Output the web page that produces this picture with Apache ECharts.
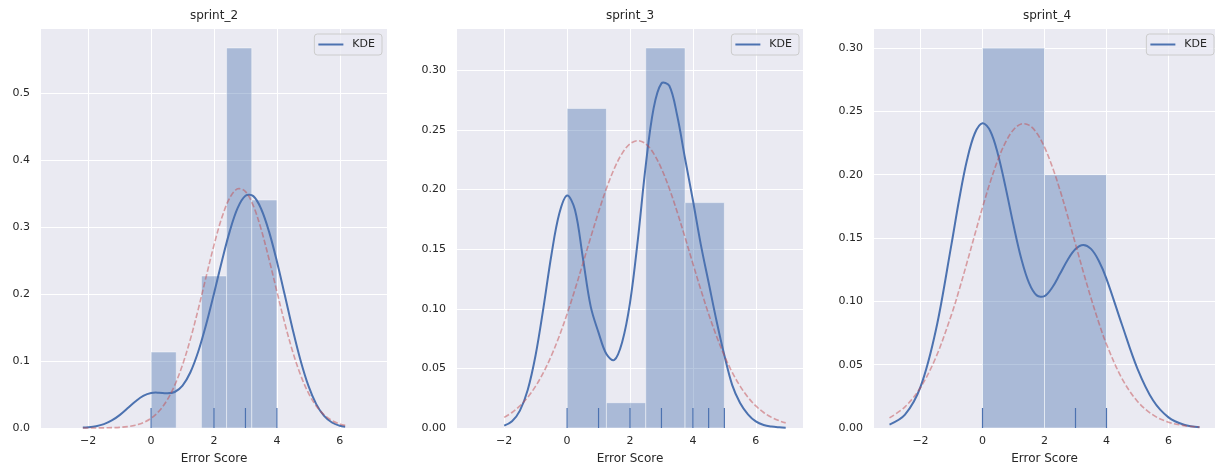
<!DOCTYPE html>
<html>
<head>
<meta charset="utf-8">
<title>Error Score per sprint</title>
<script src="https://cdn.jsdelivr.net/npm/echarts@6.0.0/dist/echarts.min.js"></script>
<style>
    html, body { margin: 0; padding: 0; background: #ffffff; }
    #main { width: 1215px; height: 470px; }
</style>
</head>
<body>
<div id="main"></div>
<script>
var panelTitles = ['sprint_2', 'sprint_3', 'sprint_4'];
var xName = 'Error Score';

// histogram bin edges and density heights
var binEdges2 = [0, 0.8, 1.6, 2.4, 3.2, 4.0];
var binHeights2 = [0.1136, 0, 0.2273, 0.5682, 0.3409];
var binEdges3 = [0, 1.25, 2.5, 3.75, 5];
var binHeights3 = [0.268, 0.0212, 0.3187, 0.189];
var binEdges4 = [0, 2, 4];
var binHeights4 = [0.30, 0.20];

// rug marks
var rug2 = [0, 2, 3, 4];
var rug3 = [0, 1, 2, 3, 4, 4.5, 5];
var rug4 = [0, 3, 4];

// curves: x positions, KDE density, fitted normal density
var curveX2 = [-2.17, -2, -1.75, -1.5, -1.25, -1, -0.75, -0.5, -0.25, 0, 0.25, 0.5, 0.75, 1, 1.25, 1.5, 1.75,
    2, 2.25, 2.5, 2.75, 3, 3.25, 3.5, 3.75, 4, 4.25, 4.5, 4.75, 5, 5.25, 5.5, 5.75, 6, 6.17];
var kde2 = [0.0006, 0.0011, 0.0027, 0.0058, 0.0113, 0.0193, 0.0294, 0.0397, 0.0481, 0.0524, 0.0528, 0.0518, 0.0538,
    0.0633, 0.0833, 0.1143, 0.1546, 0.2010, 0.2494, 0.2940, 0.3287, 0.3472, 0.3467, 0.3275, 0.2936, 0.2490,
    0.1988, 0.1478, 0.1013, 0.0633, 0.0357, 0.0181, 0.0082, 0.0033, 0.0017];
var fit2 = [0.0000, 0.0000, 0.0001, 0.0002, 0.0005, 0.0010, 0.0021, 0.0042, 0.0080, 0.0146, 0.0251, 0.0410, 0.0638,
    0.0945, 0.1329, 0.1778, 0.2262, 0.2735, 0.3146, 0.3440, 0.3576, 0.3535, 0.3323, 0.2970, 0.2524, 0.2040,
    0.1567, 0.1145, 0.0795, 0.0525, 0.0330, 0.0197, 0.0112, 0.0060, 0.0039];

var curveX3 = [-2, -1.75, -1.5, -1.25, -1, -0.75, -0.5, -0.25, 0, 0.25, 0.5, 0.75, 1, 1.25, 1.5, 1.75, 2, 2.25,
    2.5, 2.75, 3, 3.25, 3.5, 3.75, 4, 4.25, 4.5, 4.75, 5, 5.25, 5.5, 5.75, 6, 6.25, 6.5, 6.75, 6.95];
var kde3 = [0.0020, 0.0057, 0.0146, 0.0321, 0.0612, 0.1012, 0.1449, 0.1796, 0.1950, 0.1830, 0.1430, 0.1020,
    0.0800, 0.0620, 0.0570, 0.0720, 0.1050, 0.1580, 0.2200, 0.2680, 0.2890, 0.2870, 0.2620, 0.2260, 0.1910,
    0.1540, 0.1220, 0.0900, 0.0610, 0.0360, 0.0210, 0.0115, 0.0055, 0.0025, 0.0012, 0.0006, 0.0003];
var fit3 = [0.0089, 0.0130, 0.0185, 0.0258, 0.0351, 0.0466, 0.0606, 0.0770, 0.0956, 0.1161, 0.1378, 0.1598,
    0.1812, 0.2008, 0.2175, 0.2303, 0.2383, 0.2410, 0.2383, 0.2303, 0.2175, 0.2008, 0.1812, 0.1598, 0.1378,
    0.1161, 0.0956, 0.0770, 0.0606, 0.0466, 0.0351, 0.0258, 0.0185, 0.0130, 0.0089, 0.0060, 0.0043];

var curveX4 = [-3, -2.5, -2, -1.5, -1, -0.75, -0.5, -0.25, 0, 0.25, 0.5, 0.75, 1, 1.25, 1.5, 1.75, 2, 2.25,
    2.5, 2.75, 3, 3.25, 3.5, 3.75, 4, 4.5, 5, 5.5, 6, 6.5, 7];
var kde4 = [0.0027, 0.0105, 0.0324, 0.0777, 0.1452, 0.1808, 0.2115, 0.2325, 0.2406, 0.2345, 0.2160, 0.1894,
    0.1602, 0.1338, 0.1146, 0.1047, 0.1041, 0.1109, 0.1217, 0.1329, 0.1413, 0.1445, 0.1414, 0.1321, 0.1178,
    0.0815, 0.0467, 0.0219, 0.0084, 0.0026, 0.0006];
var fit4 = [0.0080, 0.0167, 0.0320, 0.0560, 0.0895, 0.1093, 0.1306, 0.1525, 0.1741, 0.1942, 0.2119, 0.2259,
    0.2355, 0.2400, 0.2391, 0.2329, 0.2217, 0.2063, 0.1878, 0.1670, 0.1452, 0.1234, 0.1026, 0.0833, 0.0661,
    0.0390, 0.0210, 0.0103, 0.0046, 0.0019, 0.0007];

// axis limits
var xMin = -3.5, xMax = 7.5;
var yMaxes = [0.5966, 0.3346, 0.315];
var yDecimals = [1, 2, 2];

if (document.readyState === 'loading') {
    document.addEventListener('DOMContentLoaded', drawPanels);
} else {
    drawPanels();
}

function zip(xs, ys) {
    var out = [];
    for (var i = 0; i < xs.length; i++) out.push([xs[i], ys[i]]);
    return out;
}

function binData(edges, heights) {
    var out = [];
    for (var i = 0; i < heights.length; i++) {
        if (heights[i] > 0) out.push([edges[i], edges[i + 1], heights[i]]);
    }
    return out;
}

function renderBar(params, api) {
    var tl = api.coord([api.value(0), api.value(2)]);
    var br = api.coord([api.value(1), 0]);
    return {
        type: 'rect',
        shape: {x: tl[0], y: tl[1], width: br[0] - tl[0], height: br[1] - tl[1]},
        style: {fill: 'rgba(76,114,176,0.4)', stroke: 'rgba(255,255,255,0.45)', lineWidth: 1}
    };
}

function renderRug(params, api) {
    var p = api.coord([api.value(0), 0]);
    return {
        type: 'line',
        shape: {x1: p[0], y1: p[1], x2: p[0], y2: p[1] - 20},
        style: {stroke: '#4C72B0', lineWidth: 1.2}
    };
}

// whole curve drawn once, as a spline through the data points
function curveRenderer(points, style) {
    return function (params, api) {
        if (params.dataIndex !== 0) return null;
        var pts = points.map(function (p) { return api.coord(p); });
        return {type: 'polyline', shape: {points: pts, smooth: 0.35}, style: style};
    };
}

function minusSign(v) {
    return v < 0 ? '\u2212' + Math.abs(v) : String(v);
}

function drawPanels() {
    var myChart = echarts.init(document.getElementById('main'));

    var gridLefts = [41, 457, 874];
    var legendRights = [833, 416, 1];
    var bins = [binData(binEdges2, binHeights2), binData(binEdges3, binHeights3), binData(binEdges4, binHeights4)];
    var rugs = [rug2, rug3, rug4];
    var kdes = [zip(curveX2, kde2), zip(curveX3, kde3), zip(curveX4, kde4)];
    var fits = [zip(curveX2, fit2), zip(curveX3, fit3), zip(curveX4, fit4)];

    var grids = [], xAxes = [], yAxes = [], titles = [], legends = [], series = [];

    for (var i = 0; i < 3; i++) {
        grids.push({
            left: gridLefts[i], top: 29, width: 346, height: 402,
            show: true, backgroundColor: '#EAEAF2', borderWidth: 0
        });
        titles.push({
            text: panelTitles[i],
            left: gridLefts[i] + 173, top: 10, textAlign: 'center', padding: 0,
            textStyle: {fontSize: 12, fontWeight: 'normal', color: '#262626', fontFamily: 'DejaVu Sans'}
        });
        legends.push({
            data: ['KDE'],
            right: legendRights[i], top: 34,
            orient: 'vertical',
            icon: 'rect', itemWidth: 25, itemHeight: 2,
            padding: [4, 7, 4, 4],
            backgroundColor: 'rgba(234,234,242,0.8)',
            borderColor: '#cccccc', borderWidth: 1, borderRadius: 3,
            textStyle: {fontSize: 11, lineHeight: 13, color: '#262626', fontFamily: 'DejaVu Sans', padding: [0, 0, 0, 4]}
        });
        xAxes.push({
            type: 'value', gridIndex: i, min: xMin, max: xMax,
            name: xName, nameLocation: 'middle', nameGap: 25,
            nameTextStyle: {fontSize: 12, color: '#262626', fontFamily: 'DejaVu Sans'},
            axisLine: {show: false}, axisTick: {show: false},
            axisLabel: {
                fontSize: 11, color: '#262626', fontFamily: 'DejaVu Sans', margin: 8,
                showMinLabel: false, showMaxLabel: false, formatter: minusSign
            },
            splitLine: {show: true, showMinLine: false, showMaxLine: false, lineStyle: {color: '#ffffff', width: 1}}
        });
        yAxes.push({
            type: 'value', gridIndex: i, min: 0, max: yMaxes[i],
            axisLine: {show: false}, axisTick: {show: false},
            axisLabel: {
                fontSize: 11, color: '#262626', fontFamily: 'DejaVu Sans', margin: 11,
                showMaxLabel: false,
                formatter: (function (d) { return function (v) { return v.toFixed(d); }; })(yDecimals[i])
            },
            splitLine: {show: true, showMaxLine: false, lineStyle: {color: '#ffffff', width: 1}}
        });

        series.push({
            name: 'hist' + i, type: 'custom', xAxisIndex: i, yAxisIndex: i,
            renderItem: renderBar, encode: {x: [0, 1], y: 2}, data: bins[i], z: 1, silent: true
        });
        series.push({
            name: 'KDE', type: 'custom', xAxisIndex: i, yAxisIndex: i,
            renderItem: curveRenderer(kdes[i], {stroke: '#4C72B0', lineWidth: 2, fill: null}),
            encode: {x: 0, y: 1}, data: kdes[i],
            itemStyle: {color: '#4C72B0'}, z: 3, silent: true
        });
        series.push({
            name: 'rug' + i, type: 'custom', xAxisIndex: i, yAxisIndex: i,
            renderItem: renderRug, encode: {x: 0, y: 1},
            data: rugs[i].map(function (v) { return [v, 0]; }), z: 4, silent: true
        });
        series.push({
            name: 'fit' + i, type: 'custom', xAxisIndex: i, yAxisIndex: i,
            renderItem: curveRenderer(fits[i], {stroke: 'rgba(196,78,82,0.5)', lineWidth: 1.6, lineDash: [5.5, 2.4], fill: null}),
            encode: {x: 0, y: 1}, data: fits[i], z: 5, silent: true
        });
    }

    var option = {
        animation: false,
        textStyle: {fontFamily: 'DejaVu Sans'},
        title: titles,
        legend: legends,
        grid: grids,
        xAxis: xAxes,
        yAxis: yAxes,
        series: series
    };

    myChart.setOption(option);
}
</script>
</body>
</html>
